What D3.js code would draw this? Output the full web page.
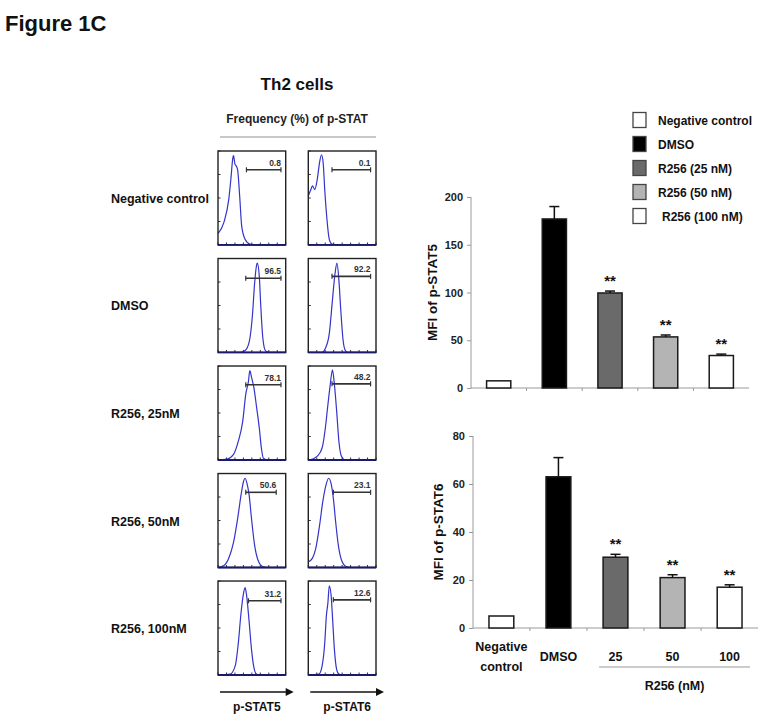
<!DOCTYPE html>
<html><head><meta charset="utf-8">
<script src="https://cdn.jsdelivr.net/npm/d3@7"></script>
<style>
body{margin:0;background:#fff;}
svg{display:block;font-family:"Liberation Sans",Arial,sans-serif;font-weight:bold;}
</style></head>
<body><svg id="c" width="780" height="720"></svg>
<script>
// ---------------- DATA ----------------
const groups = ["Negative control","DMSO","R256 (25 nM)","R256 (50 nM)","R256 (100 nM)"];
const groupColors = ["#ffffff","#000000","#6a6a6a","#b4b4b4","#ffffff"];
const stat5Mean = [7.5, 177, 99.5, 53.5, 34];
const stat5Err  = [0, 13, 2, 2, 1.5];
const stat6Mean = [5, 63, 29.5, 21, 17];
const stat6Err  = [0, 8, 1.2, 1.2, 1];
const significance = ["", "", "**", "**", "**"];
const stat5Ticks = [0, 50, 100, 150, 200];
const stat6Ticks = [0, 20, 40, 60, 80];
const xLabels = [["Negative","control"],["DMSO"],["25"],["50"],["100"]];
const doseLabel = "R256 (nM)";

const rowLabels = ["Negative control","DMSO","R256, 25nM","R256, 50nM","R256, 100nM"];
const colLabels = ["p-STAT5","p-STAT6"];
const stat5Freq = ["0.8","96.5","78.1","50.6","31.2"];
const stat6Freq = ["0.1","92.2","48.2","23.1","12.6"];
// gate [start, end, level] in relative box units
const stat5Gate = [[0.42,0.93,0.80],[0.41,0.93,0.79],[0.41,0.93,0.80],[0.41,0.86,0.80],[0.45,0.93,0.79]];
const stat6Gate = [[0.35,0.92,0.80],[0.35,0.92,0.81],[0.35,0.92,0.81],[0.37,0.92,0.80],[0.37,0.92,0.80]];
// histogram outlines, [relative intensity, relative count]
const stat5Hist = [
  [[0,0.12],[0.087,0.24],[0.16,0.49],[0.19,0.70],[0.22,0.93],[0.23,0.95],[0.25,0.86],[0.27,0.84],[0.29,0.80],[0.32,0.52],[0.35,0.20],[0.40,0.06],[0.47,0.01],[0.6,0.0],[1,0]],
  [[0,0],[0.33,0],[0.40,0.02],[0.46,0.11],[0.51,0.41],[0.54,0.73],[0.57,0.93],[0.58,0.95],[0.61,0.81],[0.63,0.52],[0.66,0.17],[0.70,0.02],[0.76,0],[1,0]],
  [[0,0],[0.135,0.01],[0.23,0.06],[0.30,0.20],[0.365,0.41],[0.41,0.70],[0.45,0.84],[0.47,0.95],[0.495,0.88],[0.53,0.77],[0.57,0.56],[0.61,0.34],[0.64,0.13],[0.67,0.02],[0.735,0],[1,0]],
  [[0,0],[0.087,0.02],[0.16,0.10],[0.23,0.27],[0.29,0.52],[0.34,0.77],[0.375,0.91],[0.40,0.95],[0.43,0.89],[0.46,0.77],[0.495,0.52],[0.54,0.24],[0.59,0.08],[0.66,0.01],[0.735,0],[1,0]],
  [[0,0],[0.18,0.01],[0.255,0.10],[0.30,0.34],[0.34,0.66],[0.375,0.86],[0.40,0.93],[0.42,0.86],[0.457,0.59],[0.495,0.27],[0.53,0.08],[0.567,0.01],[0.64,0],[1,0]]
];
const stat6Hist = [
  [[0,0.52],[0.038,0.59],[0.062,0.63],[0.095,0.59],[0.133,0.70],[0.167,0.88],[0.195,0.96],[0.219,0.88],[0.243,0.59],[0.276,0.27],[0.31,0.06],[0.348,0.01],[0.45,0],[1,0]],
  [[0,0],[0.205,0],[0.25,0.04],[0.31,0.20],[0.357,0.56],[0.395,0.84],[0.424,0.95],[0.452,0.77],[0.48,0.45],[0.514,0.13],[0.548,0.02],[0.586,0],[1,0]],
  [[0,0],[0.062,0.01],[0.133,0.04],[0.205,0.13],[0.252,0.34],[0.29,0.59],[0.324,0.80],[0.357,0.96],[0.386,0.80],[0.419,0.52],[0.452,0.20],[0.49,0.04],[0.548,0],[1,0]],
  [[0,0.06],[0.062,0.10],[0.11,0.20],[0.167,0.45],[0.214,0.70],[0.262,0.88],[0.30,0.95],[0.338,0.89],[0.371,0.73],[0.405,0.48],[0.443,0.24],[0.49,0.08],[0.56,0.01],[0.63,0],[1,0]],
  [[0,0],[0.157,0.01],[0.205,0.10],[0.243,0.34],[0.267,0.63],[0.29,0.77],[0.31,0.95],[0.338,0.84],[0.362,0.56],[0.386,0.27],[0.419,0.06],[0.452,0.01],[0.52,0],[1,0]]
];

// ---------------- DRAW ----------------
const svg = d3.select("#c");
svg.append("rect").attr("width",780).attr("height",720).attr("fill","#fff");

svg.append("text").attr("x",5).attr("y",31).attr("font-size",22).attr("fill","#111").text("Figure 1C");

// ----- left: flow panels -----
const left = svg.append("g");
left.append("text").attr("x",297).attr("y",90).attr("text-anchor","middle").attr("font-size",17).attr("fill","#111").text("Th2 cells");
left.append("text").attr("x",297).attr("y",123).attr("text-anchor","middle").attr("font-size",12).attr("fill","#222").text("Frequency (%) of p-STAT");
left.append("line").attr("x1",220).attr("x2",376).attr("y1",137).attr("y2",137).attr("stroke","#c8c8c8").attr("stroke-width",2);

const rowScale = d3.scaleBand().domain(rowLabels).range([151,675]).paddingInner(0.126);
const colScale = d3.scaleBand().domain(colLabels).range([218,376]).paddingInner(0.25);

rowLabels.forEach(r=>{
  left.append("text").attr("x",111).attr("y",rowScale(r)+rowScale.bandwidth()/2+5)
    .attr("font-size",12.5).attr("fill","#111").text(r);
});

const hists = [stat5Hist, stat6Hist];
const freqs = [stat5Freq, stat6Freq];
const gates = [stat5Gate, stat6Gate];
colLabels.forEach((c,ci)=>{
  rowLabels.forEach((r,ri)=>{
    const x0 = colScale(c), w = colScale.bandwidth(), y0 = rowScale(r), h = rowScale.bandwidth();
    const xs = d3.scaleLinear().domain([0,1]).range([x0, x0+w]);
    const ys = d3.scaleLinear().domain([0,1]).range([y0+h, y0]);
    const g = left.append("g");
    // ticks
    const tk = d3.range(0,1.0001,0.125);
    g.selectAll(null).data(tk).join("line")
      .attr("x1",d=>xs(d)).attr("x2",d=>xs(d)).attr("y1",y0+h).attr("y2",y0+h-2.5)
      .attr("stroke","#333").attr("stroke-width",1);
    g.selectAll(null).data(d3.range(0,1.0001,0.25)).join("line")
      .attr("x1",x0).attr("x2",x0+2.5).attr("y1",d=>ys(d)).attr("y2",d=>ys(d))
      .attr("stroke","#333").attr("stroke-width",1);
    // curve
    g.append("path").datum(hists[ci][ri])
      .attr("d", d3.line().x(d=>xs(d[0])).y(d=>ys(d[1])).curve(d3.curveMonotoneX))
      .attr("fill","none").attr("stroke","#3434cc").attr("stroke-width",1.2);
    // box
    g.append("rect").attr("x",x0).attr("y",y0).attr("width",w).attr("height",h)
      .attr("fill","none").attr("stroke","#222").attr("stroke-width",1.4);
    g.append("line").attr("x1",x0).attr("x2",x0+w).attr("y1",y0+h).attr("y2",y0+h)
      .attr("stroke","#1a1a6a").attr("stroke-width",1.8);
    // gate
    const gt = gates[ci][ri];
    g.append("line").attr("x1",xs(gt[0])).attr("x2",xs(gt[1])).attr("y1",ys(gt[2])).attr("y2",ys(gt[2]))
      .attr("stroke","#333").attr("stroke-width",1.6);
    [gt[0],gt[1]].forEach(v=>g.append("line").attr("x1",xs(v)).attr("x2",xs(v))
      .attr("y1",ys(gt[2])-2.5).attr("y2",ys(gt[2])+2.5).attr("stroke","#333").attr("stroke-width",1.2));
    g.append("text").attr("x",xs(gt[1])).attr("y",ys(gt[2])-4).attr("text-anchor","end")
      .attr("font-size",8.5).attr("fill","#333").text(freqs[ci][ri]);
  });
  // arrow + label
  const ax0 = colScale(c)+2, ax1 = colScale(c)+colScale.bandwidth()+8;
  left.append("line").attr("x1",ax0).attr("x2",ax1-6).attr("y1",692).attr("y2",692).attr("stroke","#111").attr("stroke-width",1.6);
  left.append("path").attr("d",`M${ax1},692 L${ax1-8},688 L${ax1-8},696 Z`).attr("fill","#111");
  left.append("text").attr("x",(ax0+ax1)/2).attr("y",711).attr("text-anchor","middle").attr("font-size",12).attr("fill","#111").text(c);
});

// ----- right: bar charts -----
function barChart(opts){
  const g = svg.append("g");
  const x = d3.scaleBand().domain(groups).range([opts.x0, opts.x1]).paddingInner(0.565).paddingOuter(0.28);
  const y = d3.scaleLinear().domain([0, opts.max]).range([opts.y0, opts.yTop]);
  // axis lines
  g.append("line").attr("x1",opts.x0).attr("x2",opts.x0).attr("y1",opts.y0).attr("y2",y(opts.max))
    .attr("stroke","#9a9a9a").attr("stroke-width",1);
  g.append("line").attr("x1",opts.x0).attr("x2",opts.x1).attr("y1",opts.y0).attr("y2",opts.y0)
    .attr("stroke","#9a9a9a").attr("stroke-width",1);
  const yAxis = d3.axisLeft(y).tickValues(opts.ticks).tickSize(4).tickPadding(4);
  const ya = g.append("g").attr("transform",`translate(${opts.x0},0)`).call(yAxis);
  ya.select(".domain").remove();
  ya.selectAll(".tick line").attr("stroke","#9a9a9a");
  ya.selectAll(".tick text").attr("font-size",11).attr("font-weight","bold").attr("fill","#222")
    .attr("font-family","'Liberation Sans',Arial,sans-serif");
  // category separators ticks
  const step = x.step();
  groups.forEach((gname,i)=>{ if(i>0){
    const xx = x(gname) - (step - x.bandwidth())/2;
    g.append("line").attr("x1",xx).attr("x2",xx).attr("y1",opts.y0).attr("y2",opts.y0+3).attr("stroke","#9a9a9a");
  }});
  // bars
  g.selectAll(null).data(groups).join("rect")
    .attr("x",d=>x(d)).attr("width",x.bandwidth())
    .attr("y",(d,i)=>y(opts.mean[i])).attr("height",(d,i)=>opts.y0-y(opts.mean[i]))
    .attr("fill",(d,i)=>groupColors[i]).attr("stroke","#1a1a1a").attr("stroke-width",1.5);
  // error bars
  groups.forEach((gname,i)=>{
    if(opts.err[i]<=0) return;
    const cx = x(gname)+x.bandwidth()/2;
    g.append("line").attr("x1",cx).attr("x2",cx).attr("y1",y(opts.mean[i])).attr("y2",y(opts.mean[i]+opts.err[i]))
      .attr("stroke","#111").attr("stroke-width",1.5);
    g.append("line").attr("x1",cx-5).attr("x2",cx+5).attr("y1",y(opts.mean[i]+opts.err[i])).attr("y2",y(opts.mean[i]+opts.err[i]))
      .attr("stroke","#111").attr("stroke-width",1.5);
    if(significance[i]) g.append("text").attr("x",cx).attr("y",y(opts.mean[i]+opts.err[i])-5)
      .attr("text-anchor","middle").attr("font-size",15).attr("fill","#111").text(significance[i]);
  });
  // y label
  g.append("text").attr("transform",`translate(${opts.labelX},${(opts.y0+y(opts.max))/2}) rotate(-90)`)
    .attr("text-anchor","middle").attr("font-size",13.5).attr("fill","#111").text(opts.label);
  return {x,y,g};
}

barChart({x0:471, x1:749, y0:388, yTop:197, max:200, ticks:stat5Ticks, mean:stat5Mean, err:stat5Err, label:"MFI of p-STAT5", labelX:437});
const b = barChart({x0:473, x1:758, y0:628, yTop:436, max:80, ticks:stat6Ticks, mean:stat6Mean, err:stat6Err, label:"MFI of p-STAT6", labelX:443});

// bottom category labels
groups.forEach((gname,i)=>{
  const cx = b.x(gname)+b.x.bandwidth()/2;
  const lines = xLabels[i];
  lines.forEach((t,li)=>{
    b.g.append("text").attr("x",cx).attr("y", lines.length>1 ? 651+li*20 : 661)
      .attr("text-anchor","middle").attr("font-size",12.5).attr("fill","#111").text(t);
  });
});
const d0 = b.x(groups[2]) - 4, d1 = b.x(groups[4]) + b.x.bandwidth() + 8;
b.g.append("line").attr("x1",d0).attr("x2",d1).attr("y1",667).attr("y2",667).attr("stroke","#999").attr("stroke-width",1);
b.g.append("text").attr("x",(d0+d1)/2).attr("y",690).attr("text-anchor","middle").attr("font-size",12.5).attr("fill","#111").text(doseLabel);

// legend
const lg = svg.append("g");
groups.forEach((gname,i)=>{
  const cy = 120 + i*24;
  lg.append("rect").attr("x",633).attr("y",cy-7.5).attr("width",13).attr("height",15)
    .attr("fill",groupColors[i]).attr("stroke","#444").attr("stroke-width",1.3);
  lg.append("text").attr("x", i===4 ? 662 : 658).attr("y",cy+4.5).attr("font-size",12).attr("fill","#111").text(gname);
});
</script></body></html>
